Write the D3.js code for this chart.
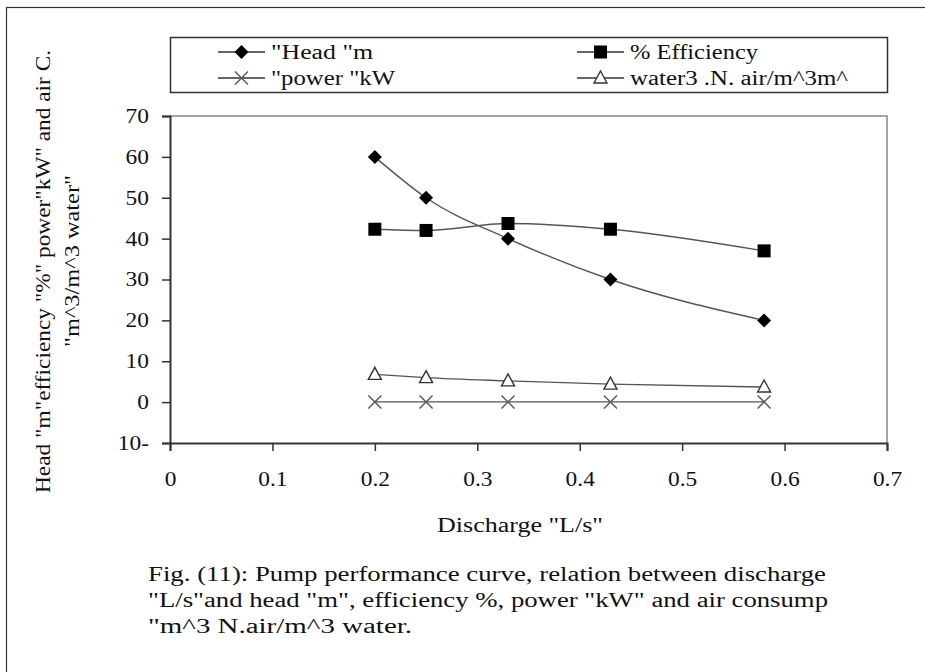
<!DOCTYPE html>
<html>
<head>
<meta charset="utf-8">
<script src="https://cdn.jsdelivr.net/npm/d3@7"></script>
<style>
  html, body { margin: 0; padding: 0; background: #fff; }
  svg { display: block; }
  text { font-family: "Liberation Serif", "Times New Roman", serif; fill: #111; }
</style>
</head>
<body>
<svg id="chart" width="925" height="672"></svg>
<script>
// ---- data ----
const discharge = [0.2, 0.25, 0.33, 0.43, 0.58];
const headM = [60, 50, 40, 30, 20];
const efficiency = [42.3, 42.0, 43.7, 42.3, 37.0];
const powerKW = [0.05, 0.05, 0.05, 0.05, 0.05];
const airConsumption = [6.8, 6.0, 5.2, 4.4, 3.7];
const seriesNames = ["\"Head \"m", "% Efficiency", "\"power \"kW", "water3 .N. air/m^3m^"];
const xTicks = [0, 0.1, 0.2, 0.3, 0.4, 0.5, 0.6, 0.7];
const yTicks = [-10, 0, 10, 20, 30, 40, 50, 60, 70];
const yTickLabels = ["10-", "0", "10", "20", "30", "40", "50", "60", "70"];
const xTitle = "Discharge \"L/s\"";
const yTitleLines = ["Head \"m\"efficiency \"%\" power\"kW\" and air C.", "\"m^3/m^3 water\""];
const captionLines = [
  "Fig. (11): Pump performance curve, relation between discharge",
  "\"L/s\"and head \"m\", efficiency %, power \"kW\" and air consump",
  "\"m^3 N.air/m^3 water."
];

const svg = d3.select("#chart");
const pLeft = 170, pRight = 887, pTop = 116, pBottom = 443;
const x = d3.scaleLinear().domain([0, 0.7]).range([pLeft, pRight]);
const y = d3.scaleLinear().domain([-10, 70]).range([pBottom, pTop]);

// stretch text horizontally (reference glyphs are wide)
function widen(sel, len) {
  sel.each(function () {
    const w = this.getComputedTextLength();
    const L = typeof len === "function" ? len(w) : len;
    d3.select(this).attr("textLength", L).attr("lengthAdjust", "spacingAndGlyphs");
  });
}

// outer frame
svg.append("rect").attr("x", 6.5).attr("y", 7.5).attr("width", 960).attr("height", 700)
  .attr("fill", "none").attr("stroke", "#333").attr("stroke-width", 1.2);

// plot frame (top/right gray)
svg.append("path").attr("d", `M${pLeft},${pTop}H${pRight}V${pBottom}`)
  .attr("fill", "none").attr("stroke", "#888").attr("stroke-width", 1.5);

// axes
const yAxis = d3.axisLeft(y).tickValues(yTicks).tickSize(8).tickPadding(13)
  .tickFormat(d => yTickLabels[yTicks.indexOf(d)]);
const gy = svg.append("g").attr("transform", `translate(${pLeft},0)`).call(yAxis);
const xAxis = d3.axisBottom(x).tickValues(xTicks).tickSize(8).tickPadding(21)
  .tickFormat(d => d === 0 ? "0" : d3.format(".1f")(d));
const gx = svg.append("g").attr("transform", `translate(0,${pBottom})`).call(xAxis);
[gx, gy].forEach(g => {
  g.select(".domain").attr("stroke", "#333").attr("stroke-width", 2);
  g.selectAll(".tick line").attr("stroke", "#333").attr("stroke-width", 1.5);
  g.selectAll("text").attr("font-size", 20).attr("font-family", "Liberation Serif").attr("fill", "#111");
  widen(g.selectAll("text"), w => w * 1.17);
});

// titles
const xt = svg.append("text").attr("x", 520).attr("y", 532).attr("text-anchor", "middle")
  .attr("font-size", 20).text(xTitle);
widen(xt, 166);
const yt = svg.append("g");
const yt1 = yt.append("text").attr("transform", "translate(50,271.5) rotate(-90)")
  .attr("text-anchor", "middle").attr("font-size", 20).text(yTitleLines[0]);
widen(yt1, 443);
const yt2 = yt.append("text").attr("transform", "translate(79,261) rotate(-90)")
  .attr("text-anchor", "middle").attr("font-size", 20).text(yTitleLines[1]);
widen(yt2, 172);

// caption
const capLens = [678, 680, 264];
captionLines.forEach((t, i) => {
  const c = svg.append("text").attr("x", 148).attr("y", 581 + i * 26).attr("font-size", 20).text(t);
  widen(c, capLens[i]);
});

// series
const series = [
  { name: seriesNames[0], values: headM, marker: "diamond" },
  { name: seriesNames[1], values: efficiency, marker: "square" },
  { name: seriesNames[2], values: powerKW, marker: "x" },
  { name: seriesNames[3], values: airConsumption, marker: "triangle" }
];
const line = d3.line().x(d => x(d[0])).y(d => y(d[1])).curve(d3.curveMonotoneX);

function drawMarker(g, type, cx, cy) {
  if (type === "diamond") {
    g.append("path").attr("d", `M${cx},${cy - 7}L${cx + 7},${cy}L${cx},${cy + 7}L${cx - 7},${cy}Z`).attr("fill", "#000");
  } else if (type === "square") {
    g.append("rect").attr("x", cx - 6.5).attr("y", cy - 6.5).attr("width", 13).attr("height", 13).attr("fill", "#000");
  } else if (type === "x") {
    g.append("path").attr("d", `M${cx - 6.5},${cy - 6.5}L${cx + 6.5},${cy + 6.5}M${cx - 6.5},${cy + 6.5}L${cx + 6.5},${cy - 6.5}`)
      .attr("stroke", "#555").attr("stroke-width", 1.4).attr("fill", "none");
  } else if (type === "triangle") {
    g.append("path").attr("d", `M${cx},${cy - 7}L${cx + 6.5},${cy + 5}L${cx - 6.5},${cy + 5}Z`)
      .attr("fill", "#fff").attr("stroke", "#333").attr("stroke-width", 1.4);
  }
}

series.forEach(s => {
  const pts = discharge.map((d, i) => [d, s.values[i]]);
  svg.append("path").datum(pts).attr("d", line).attr("fill", "none")
    .attr("stroke", "#555").attr("stroke-width", 1.4);
  const g = svg.append("g");
  pts.forEach(p => drawMarker(g, s.marker, x(p[0]), y(p[1])));
});

// legend
svg.append("rect").attr("x", 170.5).attr("y", 37.5).attr("width", 717).attr("height", 55)
  .attr("fill", "#fff").attr("stroke", "#333").attr("stroke-width", 1.5);
const legPos = [[218, 52], [577, 52], [218, 78], [577, 78]];
const legLens = [102, 128, 124, 218];
series.forEach((s, i) => {
  const [lx, ly] = legPos[i];
  const g = svg.append("g");
  g.append("line").attr("x1", lx).attr("x2", lx + 47).attr("y1", ly).attr("y2", ly)
    .attr("stroke", "#333").attr("stroke-width", 1.4);
  drawMarker(g, s.marker, lx + 23.5, ly);
  const t = g.append("text").attr("x", lx + 53).attr("y", ly + 6.5).attr("font-size", 20).text(s.name);
  widen(t, legLens[i]);
});
</script>
</body>
</html>
